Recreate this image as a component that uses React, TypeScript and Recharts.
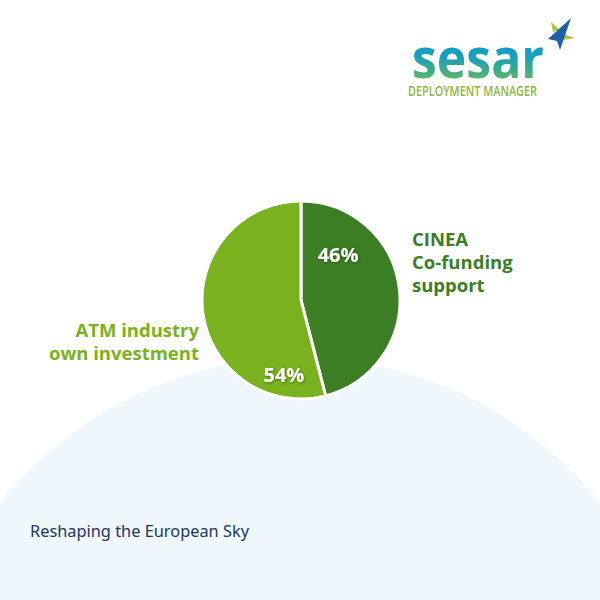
import { PieChart, Pie, Cell } from 'recharts';

const sliceNames = ['CINEA Co-funding support', 'ATM industry own investment'];
const sliceValues = [46, 54];
const nameLines = [['CINEA', 'Co-funding', 'support'], ['ATM industry', 'own investment']];
const sliceColors = ['#3b7e24', '#79b21e'];

const pieData = sliceNames.map((name, i) => ({ name, value: sliceValues[i] }));

const RAD = Math.PI / 180;

// percentage label spots (angle deg, radius) inside each slice
const pctSpots = [
  { angle: 51, r: 59 },
  { angle: -103, r: 76 },
];

const renderLabel = (props: any) => {
  const { cx, cy, outerRadius, index, percent } = props;
  const spot = pctSpots[index];
  const px = cx + spot.r * Math.cos(spot.angle * RAD);
  const py = cy - spot.r * Math.sin(spot.angle * RAD);
  const lines = nameLines[index];
  const right = index === 0;
  const nx = right ? cx + outerRadius + 12 : cx - outerRadius - 3;
  const ny = right ? cy - 54 : cy + 37;
  return (
    <g>
      <text
        x={px}
        y={py}
        textAnchor="middle"
        dominantBaseline="central"
        fill="#ffffff"
        fontFamily="'Open Sans', sans-serif"
        fontWeight={700}
        fontSize={20}
        filter="url(#pctShadow)"
      >
        {`${Math.round(percent * 100)}%`}
      </text>
      {lines.map((l, i) => (
        <text
          key={l}
          x={nx}
          y={ny + i * 23}
          textAnchor={right ? 'start' : 'end'}
          fill={sliceColors[index]}
          fontFamily="'Open Sans', sans-serif"
          fontWeight={700}
          fontSize={18.5}
        >
          {l}
        </text>
      ))}
    </g>
  );
};

export default function App() {
  return (
    <div style={{ position: 'absolute', left: 0, top: 0, width: 600, height: 600, overflow: 'hidden', background: '#ffffff' }}>
      <div
        style={{
          position: 'absolute',
          left: 300 - 382,
          top: 358,
          width: 764,
          height: 764,
          borderRadius: '50%',
          background: '#eff7fc',
        }}
      />
      <svg width={600} height={600} style={{ position: 'absolute', left: 0, top: 0 }}>
        <defs>
          <linearGradient id="sesarGrad" x1="0" y1="0" x2="0" y2="1">
            <stop offset="0%" stopColor="#1a8fd2" />
            <stop offset="50%" stopColor="#16a0c0" />
            <stop offset="68%" stopColor="#3aab8a" />
            <stop offset="100%" stopColor="#9cc33a" />
          </linearGradient>
          <filter id="pctShadow" x="-20%" y="-20%" width="140%" height="140%">
            <feDropShadow dx="0.8" dy="0.8" stdDeviation="0.8" floodColor="#1a3a10" floodOpacity="0.6" />
          </filter>
        </defs>
        <polygon points="551,22 560,30 553,32" fill="#a8c83c" />
        <polygon points="563,34 575,38 563,40" fill="#a8c83c" />
        <polygon points="571,18 560,50 557,41 548,39" fill="#1f5fa8" />
        <text
          x={412}
          y={78}
          fontFamily="'Open Sans', sans-serif"
          fontWeight={700}
          fontSize={56}
          textLength={132}
          lengthAdjust="spacingAndGlyphs"
          fill="url(#sesarGrad)"
        >
          sesar
        </text>
        <text
          x={408}
          y={96}
          fontFamily="'Open Sans', sans-serif"
          fontWeight={600}
          fontSize={14}
          textLength={129}
          lengthAdjust="spacingAndGlyphs"
          fill="#8db63c"
        >
          DEPLOYMENT MANAGER
        </text>
        <text
          x={30}
          y={537}
          fontFamily="'Noto Sans', sans-serif"
          fontSize={16.5}
          textLength={219}
          lengthAdjust="spacingAndGlyphs"
          fill="#1c365c"
        >
          Reshaping the European Sky
        </text>
      </svg>
      <div style={{ position: 'absolute', left: 0, top: 0 }}>
        <PieChart width={600} height={600} margin={{ top: 0, right: 0, bottom: 0, left: 0 }}>
          <Pie
            data={pieData}
            dataKey="value"
            nameKey="name"
            cx={301}
            cy={300}
            outerRadius={99}
            startAngle={90}
            endAngle={-270}
            stroke="#ffffff"
            strokeWidth={3}
            label={renderLabel}
            labelLine={false}
            isAnimationActive={false}
          >
            {pieData.map((d, i) => (
              <Cell key={d.name} fill={sliceColors[i]} />
            ))}
          </Pie>
        </PieChart>
      </div>
    </div>
  );
}
